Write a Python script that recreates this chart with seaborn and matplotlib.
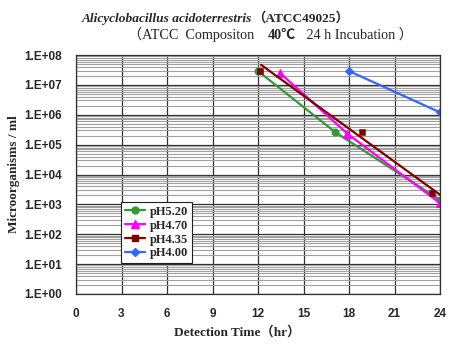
import numpy as np
import pandas as pd
import matplotlib
matplotlib.use("Agg")
import matplotlib.pyplot as plt
import seaborn as sns
from matplotlib.ticker import LogLocator, NullFormatter, FuncFormatter, FixedLocator
from matplotlib.lines import Line2D

# ---- data ----
labels = ["pH5.20", "pH4.70", "pH4.35", "pH4.00"]
colors = ["#339933", "#FF00FF", "#800000", "#3366FF"]
markers = ["o", "^", "s", "D"]

ph520_x = [12.0, 17.1, 24.0]
ph520_y = [2.9e7, 2.6e5, 1.4e3]
ph470_x = [13.45, 17.9, 24.0]
ph470_y = [2.5e7, 2.3e5, 1.1e3]
ph435_x = [12.1, 18.85, 23.5]
ph435_y = [2.9e7, 2.6e5, 2.4e3]
ph435_trend_x = [12.2, 24.0]
ph435_trend_y = [4.7e7, 2.1e3]
ph400_x = [18.0, 24.0]
ph400_y = [2.9e7, 1.2e6]

xticks = [0, 3, 6, 9, 12, 15, 18, 21, 24]

sns.set_style("white")
serif = ["Liberation Serif", "Noto Sans CJK SC"]
sans = ["Liberation Sans", "DejaVu Sans"]

fig = plt.figure(figsize=(4.52, 3.44), dpi=100)
ax = fig.add_axes([76/452, 1-294/344, (440-76)/452, (294-55)/344])

# grid
ax.set_yscale("log")
ax.set_ylim(1, 1e8)
ax.set_xlim(0, 24)
ax.yaxis.set_major_locator(FixedLocator([10.0**k for k in range(0, 9)]))
ax.yaxis.set_minor_locator(LogLocator(base=10, subs=range(2, 10), numticks=100))
ax.yaxis.set_minor_formatter(NullFormatter())
ax.yaxis.set_major_formatter(FuncFormatter(lambda v, p: "1.E+%02d" % int(round(np.log10(v)))))
ax.set_xticks(xticks)
ax.grid(which="minor", axis="y", color="#a0a0a0", lw=0.8, zorder=0)
ax.grid(which="major", axis="y", color="#303030", lw=0.9, zorder=0)
ax.grid(which="major", axis="x", color="#303030", lw=0.9, zorder=0)
ax.set_axisbelow(True)
for s in ax.spines.values():
    s.set_color("#303030")
    s.set_linewidth(0.9)
ax.tick_params(which="both", length=0)
ax.tick_params(axis="y", pad=10)
ax.tick_params(axis="x", pad=10)
for t in ax.get_xticklabels() + ax.get_yticklabels():
    t.set_fontfamily(sans)
    t.set_fontweight("bold")
    t.set_fontsize(8.5)

lw = 1.6
df = pd.DataFrame({"x": ph520_x, "y": ph520_y})
sns.lineplot(data=df, x="x", y="y", color=colors[0], marker=markers[0], markersize=5,
             markeredgecolor=colors[0], lw=lw, ax=ax)
df = pd.DataFrame({"x": ph470_x, "y": ph470_y})
sns.lineplot(data=df, x="x", y="y", color=colors[1], marker=markers[1], markersize=6,
             markeredgecolor=colors[1], lw=lw, ax=ax)
df = pd.DataFrame({"x": ph435_trend_x, "y": ph435_trend_y})
sns.lineplot(data=df, x="x", y="y", color=colors[2], lw=lw, ax=ax)
df = pd.DataFrame({"x": ph435_x, "y": ph435_y})
sns.scatterplot(data=df, x="x", y="y", color=colors[2], marker=markers[2], s=22,
                edgecolor=colors[2], ax=ax, zorder=5)
df = pd.DataFrame({"x": ph400_x, "y": ph400_y})
sns.lineplot(data=df, x="x", y="y", color=colors[3], marker=markers[3], markersize=4.5,
             markeredgecolor=colors[3], lw=lw, ax=ax)

ax.set_xlabel("Detection Time（hr）", fontfamily=serif, fontweight="bold", fontsize=9.5)
ax.set_ylabel("Microorganisms / ml", fontfamily=serif, fontweight="bold", fontsize=9.5)
ax.xaxis.set_label_coords((237-76)/364, -(326-294)/239)
ax.yaxis.set_label_coords(-(76-20)/364, 0.5)

handles = [Line2D([], [], color=c, marker=m, lw=lw, markersize=ms, markeredgecolor=c)
           for c, m, ms in zip(colors, markers, [5, 6, 4.5, 4.5])]
leg = ax.legend(handles, labels, loc="upper left", bbox_to_anchor=((121-76)/364, 1-(202-55)/239),
                borderaxespad=0, frameon=True, fancybox=False, framealpha=1,
                handlelength=1.6, handletextpad=0.4, labelspacing=0.15, borderpad=0.3,
                prop={"family": serif, "weight": "bold", "size": 9})
leg.get_frame().set_edgecolor("#202020")
leg.get_frame().set_linewidth(0.8)

# title made of styled pieces
def chain(pieces, x0, y0, size):
    x = x0
    for txt, style, weight in pieces:
        t = fig.text(x, y0, txt, fontfamily=serif, fontstyle=style, fontweight=weight,
                     fontsize=size, va="baseline", ha="left")
        fig.canvas.draw()
        bb = t.get_window_extent()
        x = bb.x1 / fig.bbox.width

chain([("Alicyclobacillus acidoterrestris", "italic", "bold"),
       ("（ATCC49025）", "normal", "bold")], 82/452, 1-22/344, 9.6)
chain([("（ATCC  Compositon    ", "normal", "normal"),
       ("40℃", "normal", "bold"),
       ("   24 h Incubation ）", "normal", "normal")], 128/452, 1-39/344, 10.2)

fig.savefig("out.png", dpi=100)
